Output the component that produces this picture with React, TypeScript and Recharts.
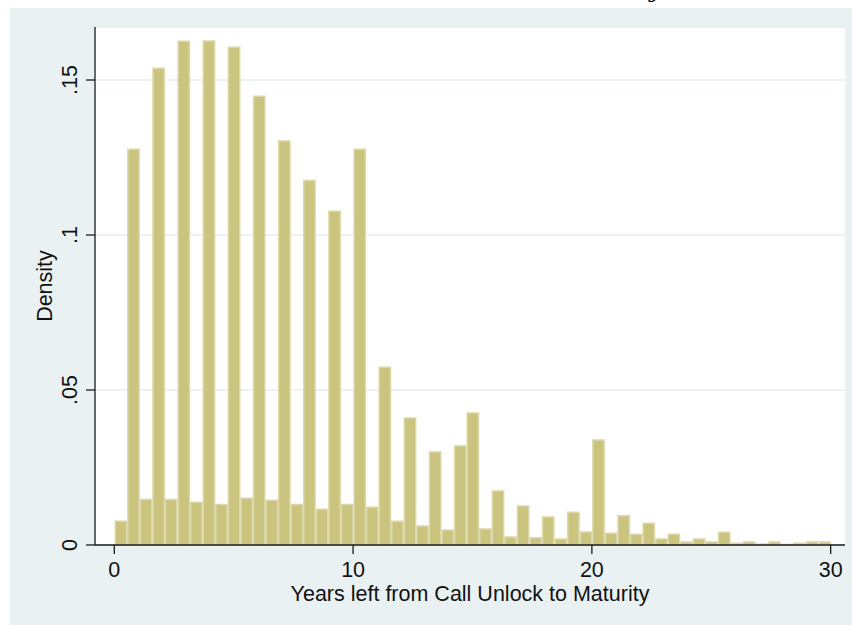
import React from "react";
import {
    BarChart,
    Bar,
    XAxis,
    YAxis,
    CartesianGrid,
    Label,
} from "recharts";

// histogram bins: 57 equal bins over 0..30 years
const binCount = 57;
const binWidth = 30 / binCount;

const densities = [
    0.0077, 0.1277, 0.0147, 0.1538, 0.0147, 0.1625, 0.0138, 0.1626, 0.0131, 0.1606,
    0.0151, 0.1448, 0.0144, 0.1303, 0.0131, 0.1176, 0.0115, 0.1077, 0.0131, 0.1277,
    0.0122, 0.0573, 0.0077, 0.041, 0.0061, 0.030, 0.0048, 0.0319, 0.0426, 0.0052,
    0.0174, 0.0026, 0.0126, 0.0023, 0.009, 0.0019, 0.0106, 0.0042, 0.0339, 0.0038,
    0.0094, 0.0035, 0.007, 0.0019, 0.0035, 0.001, 0.0019, 0.001, 0.0041, 0.0006,
    0.001, 0.0003, 0.001, 0.0002, 0.0006, 0.001, 0.001,
];

const xTicks = [0, 10, 20, 30];
const yTicks = [0, 0.05, 0.1, 0.15];

const xDomain: [number, number] = [-0.808, 30.6];
const yDomain: [number, number] = [0, 0.1671];

const data = densities.map((d, i) => ({ mid: (i + 0.5) * binWidth, density: d }));

const W = 852;
const H = 625;
const margin = { top: 27, right: 7, bottom: 20, left: 25 };
const yAxisW = 70;
const xAxisH = 60;
const plotW = W - margin.left - margin.right - yAxisW;
const barPx = (plotW * binWidth) / (xDomain[1] - xDomain[0]);

const font = "'Liberation Sans', Arial, Helvetica, sans-serif";
const fs = 21.5;

const fmtY = (v: number) => (v === 0 ? "0" : String(v).replace(/^0/, ""));

const YTick = (props: any) => {
    const { x, y, payload } = props;
    return (
        <text
            transform={`translate(${x - 7},${y}) rotate(-90)`}
            textAnchor="middle"
            fontSize={fs}
            fontFamily={font}
            fill="#111"
        >
            {fmtY(payload.value)}
        </text>
    );
};

const XTick = (props: any) => {
    const { x, y, payload } = props;
    return (
        <text x={x} y={y + 21} textAnchor="middle" fontSize={fs} fontFamily={font} fill="#111">
            {payload.value}
        </text>
    );
};

export default function App() {
    return (
        <div style={{ position: "absolute", left: 0, top: 0, width: W, height: H, background: "#fff", overflow: "hidden" }}>
            <div style={{ position: "absolute", left: 10, top: 8, right: 0, bottom: 0, background: "#eaf1f3" }} />
            <svg style={{ position: "absolute", left: 0, top: 0 }} width={W} height={30}>
                <text x={660} y={-2} textAnchor="end" fontSize={20} fontStyle="italic" fontWeight="bold" fontFamily="'DejaVu Serif', serif" fill="#000">
                    Maturity
                </text>
            </svg>
            <div style={{ position: "absolute", left: 0, top: 0 }}>
                <BarChart
                    width={W}
                    height={H}
                    data={data}
                    margin={margin}
                    barCategoryGap={0}
                    barGap={0}
                >
                    <CartesianGrid
                        vertical={false}
                        horizontal
                        stroke="#e6eef1"
                        strokeWidth={1.5}
                        fill="#ffffff"
                    />
                    <XAxis
                        dataKey="mid"
                        type="number"
                        domain={xDomain}
                        allowDataOverflow
                        ticks={xTicks}
                        interval={0}
                        height={xAxisH}
                        tickSize={9}
                        tick={<XTick />}
                        axisLine={{ stroke: "#1a1a1a", strokeWidth: 1.3 }}
                        tickLine={{ stroke: "#1a1a1a", strokeWidth: 1.3 }}
                    >
                        <Label
                            value="Years left from Call Unlock to Maturity"
                            position="insideBottom"
                            offset={4}
                            style={{ fontSize: fs, fontFamily: font, fill: "#111" }}
                        />
                    </XAxis>
                    <YAxis
                        type="number"
                        domain={yDomain}
                        allowDataOverflow
                        ticks={yTicks}
                        interval={0}
                        width={yAxisW}
                        tickSize={9}
                        tick={<YTick />}
                        axisLine={{ stroke: "#1a1a1a", strokeWidth: 1.3 }}
                        tickLine={{ stroke: "#1a1a1a", strokeWidth: 1.3 }}
                    >
                        <Label
                            value="Density"
                            angle={-90}
                            position="insideLeft"
                            offset={19}
                            style={{ fontSize: fs, fontFamily: font, fill: "#111", textAnchor: "middle" }}
                        />
                    </YAxis>
                    <Bar
                        dataKey="density"
                        fill="#cbc47f"
                        stroke="#dcd8a9"
                        strokeWidth={1.5}
                        barSize={barPx}
                        isAnimationActive={false}
                    />
                </BarChart>
            </div>
        </div>
    );
}
